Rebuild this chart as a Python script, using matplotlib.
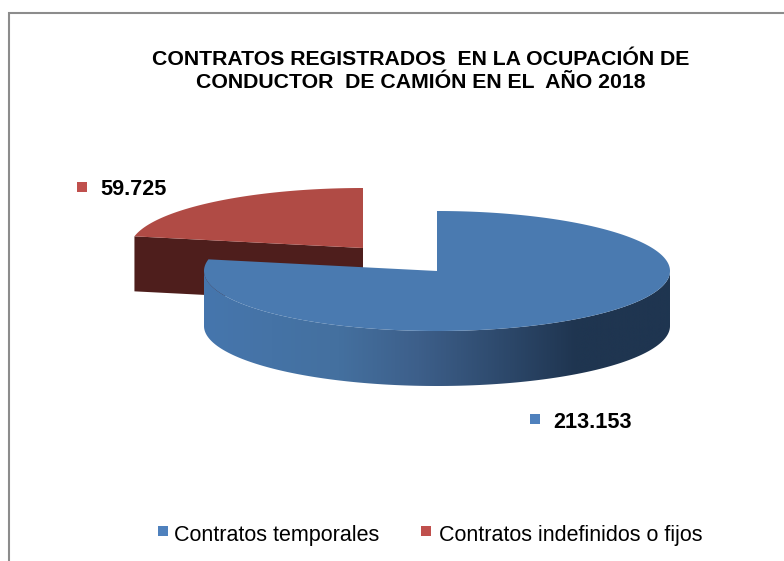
import numpy as np
import matplotlib
matplotlib.use("Agg")
import matplotlib.pyplot as plt
from matplotlib.patches import Polygon, Rectangle
from matplotlib.colors import LinearSegmentedColormap

# Data
categories = ["Contratos temporales", "Contratos indefinidos o fijos"]
values = [213153, 59725]
value_labels = ["213.153", "59.725"]
title = "CONTRATOS REGISTRADOS  EN LA OCUPACIÓN DE\nCONDUCTOR  DE CAMIÓN EN EL  AÑO 2018"

top_colors = ["#4a7ab0", "#b04b45"]
legend_colors = ["#4f81bd", "#c0504d"]
red_side = "#4e1e1c"

plt.rcParams["font.family"] = "Liberation Sans"

fig = plt.figure(figsize=(7.84, 5.61), dpi=100)
ax = fig.add_axes([0, 0, 1, 1])
ax.axis("off")

# chart frame, cut off by the image on the right and bottom
ax.plot([9, 9, 784], [561, 13, 13], color="#8c8c8c", lw=1.5, solid_joinstyle="miter")

# pie geometry
rx, ry = 233, 60
depth = 55
blue_c = (437, 271)
red_c = (363, 248)

fracs = np.array(values) / sum(values)
split = 90 - fracs[0] * 360  # clockwise from 12 o'clock


def rim(c, a0, a1, n=200):
    t = np.radians(np.linspace(a0, a1, n))
    return c[0] + rx * np.cos(t), c[1] - ry * np.sin(t)


# red slice: cut face first, then top
xr, yr = rim(red_c, split, 90 - 360)
left = (xr[0], yr[0])
ax.add_patch(Polygon([left, red_c, (red_c[0], red_c[1] + depth), (left[0], left[1] + depth)],
                     closed=True, fc=red_side, ec="none", zorder=2))
ax.add_patch(Polygon(np.r_[[red_c], np.c_[xr, yr]], closed=True, fc=top_colors[1], ec="none", zorder=3))

# blue slice: side wall with a horizontal gradient, then top
side_cmap = LinearSegmentedColormap.from_list(
    "side", [(0, "#4676ad"), (0.29, "#44709f"), (0.46, "#3d5f8a"),
             (0.634, "#2e4a6d"), (0.8, "#1f3550"), (1, "#1f3550")])
xf, yf = rim(blue_c, 180, 360, 400)
wall = Polygon(np.r_[np.c_[xf, yf], np.c_[xf[::-1], yf[::-1] + depth]], closed=True,
               fc="none", ec="none", transform=ax.transData)
ax.add_patch(wall)
grad = ax.imshow(np.linspace(0, 1, 512)[None, :], cmap=side_cmap, aspect="auto",
                 extent=(xf.min(), xf.max(), yf.max() + depth, yf.min()), zorder=4)
grad.set_clip_path(wall)

xb, yb = rim(blue_c, 90, split, 600)
ax.add_patch(Polygon(np.r_[[blue_c], np.c_[xb, yb]], closed=True, fc=top_colors[0], ec="none", zorder=5))

# pixel coordinates, same as the picture
ax.set_xlim(0, 784)
ax.set_ylim(561, 0)

# title
ax.text(421, 71, title, ha="center", va="center", fontsize=15.3, fontweight="bold",
        color="black", linespacing=1.28, zorder=6)

# data labels
label_pos = [(553, 422), (100, 189)]
label_box = [(530, 414), (77, 182)]
for i in range(2):
    ax.add_patch(Rectangle(label_box[i], 10, 10, fc=legend_colors[i], ec="none"))
    ax.text(label_pos[i][0], label_pos[i][1], value_labels[i], ha="left", va="center",
            fontsize=15.6, fontweight="bold", color="black")

# legend
legend_box = [158, 421]
legend_text = [174, 439]
for i in range(2):
    ax.add_patch(Rectangle((legend_box[i], 526), 10, 10, fc=legend_colors[i], ec="none"))
    ax.text(legend_text[i], 535, categories[i], ha="left", va="center", fontsize=15.5, color="black")

fig.savefig("out.png", dpi=100)
